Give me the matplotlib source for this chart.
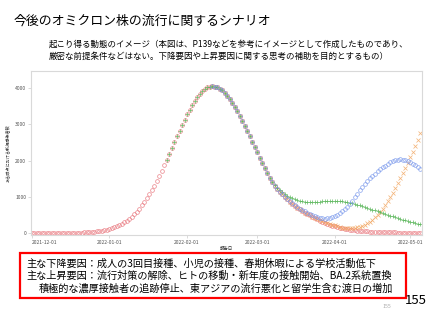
import matplotlib
matplotlib.use('Agg')
import matplotlib.pyplot as plt
import pandas as pd
from matplotlib.patches import Rectangle

plt.rcParams['font.family'] = ['Noto Sans CJK JP', 'DejaVu Sans']

# daily values, 2021-12-01 .. 2022-05-05
dates = pd.date_range('2021-12-01', '2022-05-05', freq='D')

# baseline scenario (red circles)
red = [1, 1, 1, 1, 1, 1, 1, 1, 1, 1, 1, 2, 2, 2, 3,
       4, 5, 6, 8, 10, 13, 16, 19, 24, 30,
       36, 44, 54, 65, 78, 94, 112, 133, 157, 185,
       217, 254, 296, 343, 395, 454, 520, 592, 672, 759,
       853, 955, 1065, 1183, 1308, 1440, 1579, 1723, 1873, 2027,
       2184, 2344, 2504, 2664, 2823, 2977, 3127, 3271, 3406, 3532,
       3647, 3750, 3839, 3914, 3973, 4016, 4042, 4050, 4042, 4020,
       3983, 3932, 3867, 3789, 3699, 3597, 3486, 3366, 3237, 3102,
       2961, 2817, 2670, 2521, 2372, 2223, 2076, 1931, 1790, 1653,
       1522, 1410, 1310, 1220, 1140, 1065, 995, 930, 868, 810,
       755, 703, 654, 608, 565, 524, 484, 445, 408, 373,
       340, 309, 280, 253, 228, 205, 184, 165, 148, 133,
       119, 106, 95, 85, 76, 68, 61, 55, 49, 44,
       40, 36, 32, 29, 26, 23, 21, 19, 17, 15,
       14, 13, 12, 11, 10, 9, 8, 8, 7, 7, 6]

# other scenarios share the red curve up to a day, then follow their own tail
green_start, green_split = 54, 97
green_tail = [1318, 1240, 1180, 1125, 1075, 1030, 990, 956, 928, 906,
              890, 878, 868, 861, 857, 856, 857, 860, 865, 871,
              877, 883, 887, 890, 890, 887, 881, 872, 861, 848,
              833, 816, 798, 779, 759, 738, 716, 694, 671, 648,
              624, 600, 576, 552, 528, 504, 481, 458, 436, 414,
              393, 372, 352, 333, 314, 296, 279, 262, 246]

blue_start, blue_split = 72, 100
blue_tail = [1068, 1000, 937, 878, 822, 770, 721, 676, 634, 595,
             560, 529, 490, 460, 435, 416, 404, 400, 404, 416,
             436, 464, 500, 544, 596, 656, 724, 798, 890, 985,
             1080, 1175, 1265, 1350, 1430, 1505, 1575, 1640, 1700, 1760,
             1815, 1862, 1900, 1950, 1990, 2015, 2028, 2030, 2022, 2005,
             1980, 1948, 1910, 1867, 1820, 1770]

orange_start, orange_split = 72, 113
orange_tail = [412, 380, 350, 322, 296, 272, 250, 230, 212, 185,
               165, 148, 136, 129, 127, 130, 138, 152, 172, 198,
               230, 270, 317, 370, 432, 503, 583, 672, 770, 876,
               990, 1111, 1238, 1370, 1507, 1648, 1792, 1938, 2086, 2236,
               2400, 2570, 2750]

green = red[green_start:green_split] + green_tail
blue = red[blue_start:blue_split] + blue_tail
orange = red[orange_start:orange_split] + orange_tail

tick_dates = ['2021-12-01', '2022-01-01', '2022-02-01', '2022-03-01', '2022-04-01', '2022-05-01']
yticks = [0, 1000, 2000, 3000, 4000]

fig = plt.figure(figsize=(4.27, 3.2), dpi=100)

fig.text(14 / 427, 1 - 21 / 320, '今後のオミクロン株の流行に関するシナリオ',
         fontsize=9.3, va='center', ha='left')
fig.text(49 / 427, 1 - 44 / 320,
         '起こり得る動態のイメージ（本図は、P139などを参考にイメージとして作成したものであり、',
         fontsize=6.1, va='center', ha='left')
fig.text(49 / 427, 1 - 56.5 / 320,
         '厳密な前提条件などはない。下降要因や上昇要因に関する思考の補助を目的とするもの）',
         fontsize=6.1, va='center', ha='left')

ax = fig.add_axes([31 / 427, 1 - 235 / 320, (422 - 31) / 427, (235 - 71) / 320])

mk = dict(linestyle='none', markersize=2.7, markeredgewidth=0.55)
ax.plot(dates, red, marker='o', mfc='none', mec='#e8737a', alpha=0.8, **mk)
ax.plot(dates[orange_start:], orange, marker='x', color='#f2a25a', alpha=0.8, **mk)
ax.plot(dates[green_start:], green, marker='+', color='#4cb04c', alpha=0.8, **mk)
ax.plot(dates[blue_start:], blue, marker='o', mfc='none', mec='#7a98ec', alpha=0.8, **mk)

ax.set_xlim(dates[0] - pd.Timedelta(hours=6), dates[-1] + pd.Timedelta(hours=18))
ax.set_ylim(-55, 4470)
ax.set_xticks(pd.to_datetime(tick_dates))
ax.set_xticklabels(tick_dates)
ax.set_yticks(yticks)
ax.set_yticklabels([str(v) for v in yticks])
ax.get_xticklabels()[0].set_horizontalalignment('left')

for s in ax.spines.values():
    s.set_color('#d9d9d9')
    s.set_linewidth(0.8)
ax.tick_params(axis='both', labelsize=3.6, colors='#555555', length=2, width=0.5, pad=1.5)
ax.tick_params(axis='both', color='#cccccc')

ax.set_xlabel('報告日', fontsize=3.2, color='#333333', labelpad=1)
ax.set_ylabel('ある時点における新規感染者数', fontsize=3.0, color='#333333')
ax.yaxis.set_label_coords(-21 / 391, 0.5)

# red box with the main factors
fig.add_artist(Rectangle((20 / 427, 1 - 298 / 320), (406 - 20) / 427, 45 / 320,
                         transform=fig.transFigure, fill=False, edgecolor='#ff0000', linewidth=1.6))
fig.text(26 / 427, 1 - 263.5 / 320,
         '主な下降要因：成人の3回目接種、小児の接種、春期休暇による学校活動低下',
         fontsize=7.3, va='center', ha='left')
fig.text(26 / 427, 1 - 276 / 320,
         '主な上昇要因：流行対策の解除、ヒトの移動・新年度の接触開始、BA.2系統置換',
         fontsize=7.3, va='center', ha='left')
fig.text(39 / 427, 1 - 289 / 320,
         '積極的な濃厚接触者の追跡停止、東アジアの流行悪化と留学生含む渡日の増加',
         fontsize=7.3, va='center', ha='left')

fig.text(427 / 427, 1 - 300 / 320, '155', fontsize=9.5, va='center', ha='right')
fig.text(387 / 427, 1 - 306 / 320, '155', fontsize=3.8, va='center', ha='center', color='#aaaaaa')

fig.savefig('out.png', dpi=100, facecolor='white')
